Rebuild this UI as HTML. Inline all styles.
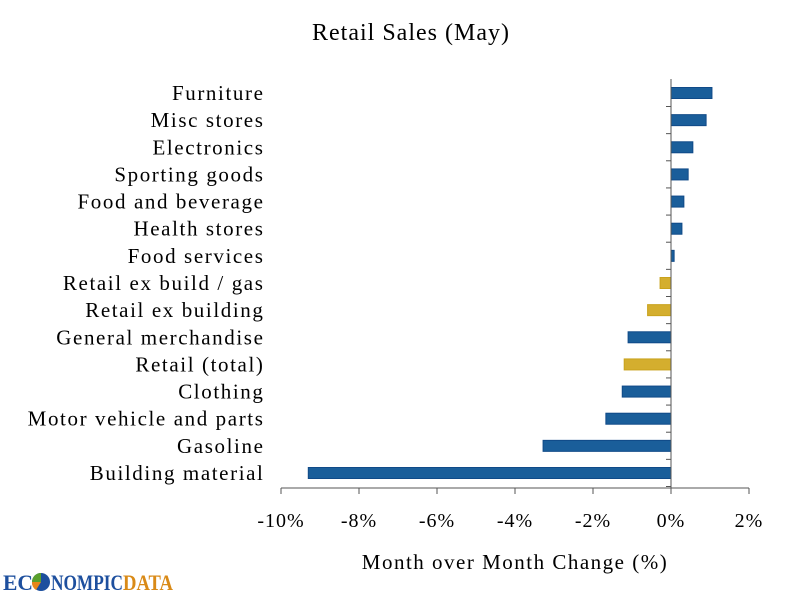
<!DOCTYPE html>
<html><head><meta charset="utf-8"><style>
body{margin:0;background:#fff}
svg text{font-family:"Liberation Serif",serif;fill:#000}
</style></head><body>
<svg id="c" width="800" height="600">
<text x="411" y="40" font-size="24" letter-spacing="1" text-anchor="middle">Retail Sales (May)</text>
<text x="515" y="569" font-size="21" letter-spacing="1.5" text-anchor="middle">Month over Month Change (%)</text>
<g>
<text x="3" y="590" font-size="22" font-weight="bold" style="fill:#1d4f9e" textLength="30" lengthAdjust="spacingAndGlyphs">EC</text>
<circle cx="41" cy="582" r="9" fill="#1d4f9e"/>
<path d="M41 582 L41 573 A9 9 0 0 0 32 582 Z" fill="#5aa02c"/>
<path d="M41 582 L32 582 A9 9 0 0 0 36 590 Z" fill="#e8861a"/>
<text x="51" y="590" font-size="22" font-weight="bold" style="fill:#1d4f9e" textLength="72" lengthAdjust="spacingAndGlyphs">NOMPIC</text>
<text x="123" y="590" font-size="22" font-weight="bold" style="fill:#d98a17" textLength="50" lengthAdjust="spacingAndGlyphs">DATA</text>
</g>
<g id="plot"></g>
</svg>
<script>
const categories=["Furniture","Misc stores","Electronics","Sporting goods","Food and beverage","Health stores","Food services","Retail ex build / gas","Retail ex building","General merchandise","Retail (total)","Clothing","Motor vehicle and parts","Gasoline","Building material"];
const values=[1.05,0.9,0.56,0.44,0.33,0.28,0.08,-0.28,-0.6,-1.1,-1.2,-1.25,-1.67,-3.28,-9.3];
const highlight=[0,0,0,0,0,0,0,1,1,0,1,0,0,0,0];
const ticks=[-10,-8,-6,-4,-2,0,2];
const tickLabels=["-10%","-8%","-6%","-4%","-2%","0%","2%"];
const ns="http://www.w3.org/2000/svg";
const g=document.getElementById('plot');
const X=v=>281+(v+10)*39;
const Y=i=>93+i*(380/14);
function mk(t,a){const e=document.createElementNS(ns,t);for(const k in a)e.setAttribute(k,a[k]);g.appendChild(e);return e;}
categories.forEach((c,i)=>{
 const v=values[i];const x0=X(0),x1=X(v);
 const r=mk('rect',{x:Math.min(x0,x1),y:Y(i)-5.5,width:Math.abs(x1-x0),height:11,fill:highlight[i]?'#d4ae2e':'#1a5e9a',stroke:highlight[i]?'#c9a21c':'#104a88','stroke-width':1});
 
 
 const t=mk('text',{x:264.5,y:Y(i)+7,'font-size':21,'letter-spacing':1.6,'text-anchor':'end'});t.textContent=c;
 
 
 const tk=mk('line',{x1:666,x2:671,y1:Y(i)+13.5,y2:Y(i)+13.5,stroke:'#555'});
 
 
});
const ya=mk('line',{x1:671,x2:671,y1:79,y2:488,stroke:'#555'});


const xa=mk('line',{x1:281,x2:749,y1:488,y2:488,stroke:'#555'});


ticks.forEach((v,i)=>{
 const l=mk('line',{x1:X(v),x2:X(v),y1:488,y2:494,stroke:'#555'});
 
 
 const t=mk('text',{x:X(v),y:527,'font-size':20,'letter-spacing':1,'text-anchor':'middle'});t.textContent=tickLabels[i];
 
 
});
</script>
</body></html>
